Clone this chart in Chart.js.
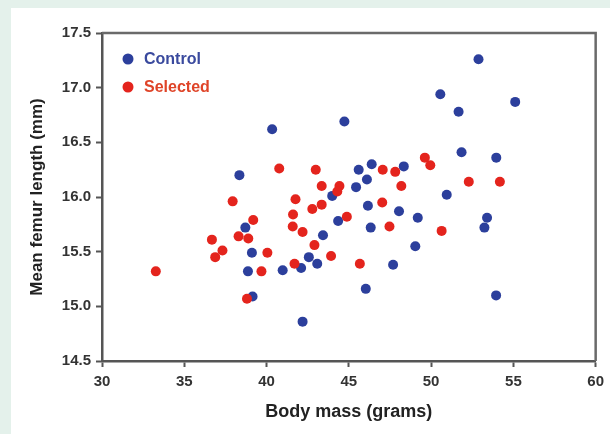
<!DOCTYPE html>
<html>
<head>
<meta charset="utf-8">
<script src="https://cdn.jsdelivr.net/npm/chart.js@4.4.0/dist/chart.umd.min.js"></script>
<style>
  html, body { margin: 0; padding: 0; }
  body { width: 610px; height: 434px; background: #e4f1eb; position: relative; overflow: hidden; }
  #wrap { position: absolute; left: 11px; top: 8px; width: 599px; height: 426px; background: #fff; }
</style>
</head>
<body>
<div id="wrap"><canvas id="femur_chart" width="599" height="426"></canvas></div>
<script>
// body mass (g) and mean femur length (mm)
var control_mass = [40.34, 38.35, 44.73, 52.88, 50.56, 51.67, 55.11, 51.85, 53.96, 46.39,
                    45.60, 48.34, 46.10, 45.44, 50.95, 43.99, 46.16, 48.05, 49.19, 53.40,
                    53.24, 53.95, 44.35, 46.33, 43.43, 49.04, 42.57, 43.08, 42.10, 47.69,
                    46.03, 42.19, 38.71, 39.11, 38.87, 39.15, 40.98]
var control_femur = [16.62, 16.20, 16.69, 17.26, 16.94, 16.78, 16.87, 16.41, 16.36, 16.30,
                     16.25, 16.28, 16.16, 16.09, 16.02, 16.01, 15.92, 15.87, 15.81, 15.81,
                     15.72, 15.10, 15.78, 15.72, 15.65, 15.55, 15.45, 15.39, 15.35, 15.38,
                     15.16, 14.86, 15.72, 15.49, 15.32, 15.09, 15.33]

var selected_mass = [40.77, 42.99, 37.94, 41.76, 41.61, 42.78, 39.19, 38.30, 38.89, 36.68,
                     37.32, 36.88, 40.05, 39.69, 38.81, 33.27, 41.59, 42.19, 42.91, 41.70,
                     47.06, 47.82, 49.62, 49.95, 43.35, 44.43, 44.30, 48.19, 43.35, 47.03,
                     44.88, 47.47, 52.29, 54.18, 50.64, 43.92, 45.67]
var selected_femur = [16.26, 16.25, 15.96, 15.98, 15.84, 15.89, 15.79, 15.64, 15.62, 15.61,
                      15.51, 15.45, 15.49, 15.32, 15.07, 15.32, 15.73, 15.68, 15.56, 15.39,
                      16.25, 16.23, 16.36, 16.29, 16.10, 16.10, 16.05, 16.10, 15.93, 15.95,
                      15.82, 15.73, 16.14, 16.14, 15.69, 15.46, 15.39]

var group_names = ['Control', 'Selected']
var x_ticks = [30, 35, 40, 45, 50, 55, 60]
var y_ticks = [14.5, 15.0, 15.5, 16.0, 16.5, 17.0, 17.5]

function toPoints(xs, ys){
    var pts = []
    for (var i = 0; i < xs.length; i++) {
        pts.push({x: xs[i], y: ys[i]})
    }
    return pts
}

var blue = '#2c3f9c'
var red = '#e4241d'
var axisGrey = '#555'
var fontFam = '"Liberation Sans", Arial, sans-serif'

// top + right frame of the plot box
var framePlugin = {
    id: 'frame',
    beforeDatasetsDraw: function(chart){
        var a = chart.chartArea
        var ctx = chart.ctx
        ctx.save()
        ctx.strokeStyle = '#6a6a6a'
        ctx.lineWidth = 2.5
        ctx.beginPath()
        ctx.moveTo(a.left, a.top)
        ctx.lineTo(a.right, a.top)
        ctx.lineTo(a.right, a.bottom)
        ctx.stroke()
        ctx.restore()
    }
}

// legend sits inside the plot, top left
var legendPlugin = {
    id: 'insideLegend',
    afterDraw: function(chart){
        var ctx = chart.ctx
        var a = chart.chartArea
        var cols = [blue, red]
        var txtCols = ['#3a4a9e', '#df4428']
        ctx.save()
        ctx.font = 'bold 16px ' + fontFam
        ctx.textBaseline = 'middle'
        for (var i = 0; i < group_names.length; i++) {
            var cy = a.top + 26 + i * 28
            ctx.fillStyle = cols[i]
            ctx.beginPath()
            ctx.arc(a.left + 26, cy, 5.5, 0, Math.PI * 2)
            ctx.fill()
            ctx.fillStyle = txtCols[i]
            ctx.fillText(group_names[i], a.left + 42, cy + 1)
        }
        ctx.restore()
    }
}

var ctx = document.getElementById('femur_chart').getContext('2d')
var femurChart = new Chart(ctx, {
    type: 'scatter',
    data: {
        datasets: [{
            label: group_names[0],
            data: toPoints(control_mass, control_femur),
            backgroundColor: blue,
            borderWidth: 0,
            pointRadius: 5,
            order: 2
        }, {
            label: group_names[1],
            data: toPoints(selected_mass, selected_femur),
            backgroundColor: red,
            borderWidth: 0,
            pointRadius: 5,
            order: 1
        }]
    },
    options: {
        responsive: false,
        animation: false,
        devicePixelRatio: 1,
        layout: { padding: { top: 25, right: 12, left: 0, bottom: 0 } },
        plugins: {
            legend: { display: false },
            tooltip: { enabled: false }
        },
        scales: {
            x: {
                type: 'linear',
                min: 30,
                max: 60,
                afterBuildTicks: function(scale){
                    scale.ticks = x_ticks.map(function(v){ return {value: v} })
                },
                afterFit: function(scale){ scale.height = 73 },
                grid: { drawOnChartArea: false, drawTicks: true, tickLength: 6, color: axisGrey, tickWidth: 2 },
                border: { display: true, color: axisGrey, width: 2.5 },
                ticks: {
                    color: '#333',
                    padding: 6,
                    font: { family: fontFam, size: 15, weight: 'bold' }
                },
                title: {
                    display: true,
                    text: 'Body mass (grams)',
                    color: '#222',
                    font: { family: fontFam, size: 18, weight: 'bold' },
                    padding: { top: 4, bottom: 11 }
                }
            },
            y: {
                type: 'linear',
                min: 14.5,
                max: 17.5,
                afterBuildTicks: function(scale){
                    scale.ticks = y_ticks.map(function(v){ return {value: v} })
                },
                afterFit: function(scale){ scale.width = 91 },
                grid: { drawOnChartArea: false, drawTicks: true, tickLength: 6, color: axisGrey, tickWidth: 2 },
                border: { display: true, color: axisGrey, width: 2.5 },
                ticks: {
                    color: '#333',
                    padding: 5,
                    font: { family: fontFam, size: 15, weight: 'bold' },
                    callback: function(v){ return Number(v).toFixed(1) }
                },
                title: {
                    display: true,
                    text: 'Mean femur length (mm)',
                    color: '#222',
                    font: { family: fontFam, size: 17, weight: 'bold' },
                    padding: { top: 16, bottom: 4 }
                }
            }
        }
    },
    plugins: [framePlugin, legendPlugin]
})
</script>
</body>
</html>
